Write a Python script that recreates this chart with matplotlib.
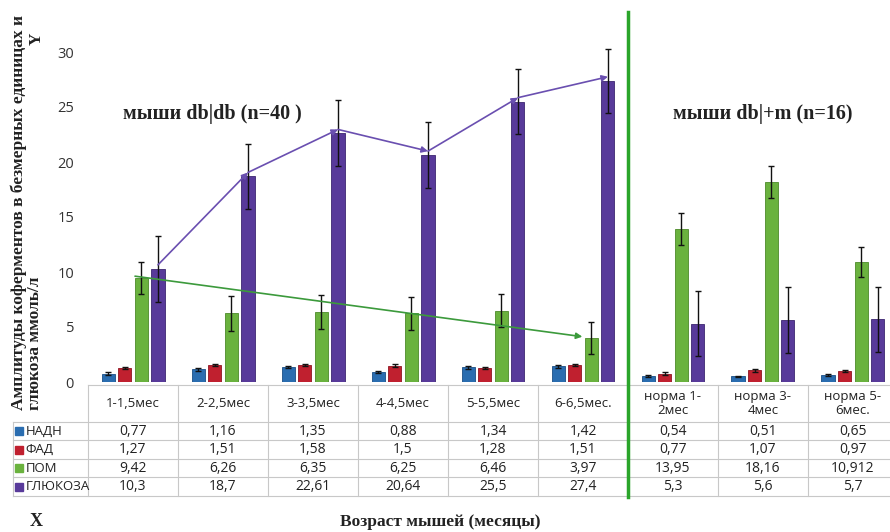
import numpy as np
import matplotlib
matplotlib.use("Agg")
import matplotlib.pyplot as plt

plt.rcParams['font.family'] = ['Open Sans', 'DejaVu Sans']
serif = ['Liberation Serif', 'DejaVu Serif']

groups = ['1-1,5мес', '2-2,5мес', '3-3,5мес', '4-4,5мес', '5-5,5мес', '6-6,5мес.',
          'норма 1-\n2мес', 'норма 3-\n4мес', 'норма 5-\n6мес.']
series = ['НАДН', 'ФАД', 'ПОМ', 'ГЛЮКОЗА']
nadh = [0.77, 1.16, 1.35, 0.88, 1.34, 1.42, 0.54, 0.51, 0.65]
fad = [1.27, 1.51, 1.58, 1.5, 1.28, 1.51, 0.77, 1.07, 0.97]
pom = [9.42, 6.26, 6.35, 6.25, 6.46, 3.97, 13.95, 18.16, 10.912]
gluc = [10.3, 18.7, 22.61, 20.64, 25.5, 27.4, 5.3, 5.6, 5.7]

nadh_err = [0.1, 0.12, 0.12, 0.1, 0.12, 0.12, 0.08, 0.08, 0.08]
fad_err = [0.12, 0.1, 0.1, 0.1, 0.12, 0.1, 0.1, 0.12, 0.1]
pom_err = [1.45, 1.6, 1.55, 1.5, 1.5, 1.45, 1.45, 1.45, 1.4]
gluc_err = [3.0, 2.95, 3.0, 3.0, 2.95, 2.9, 2.95, 3.0, 2.95]

colors = ['#2a6db0', '#c0202f', '#6ab23e', '#583a9a']
edges = ['#1b4f85', '#8e1420', '#4d8a2a', '#3d2670']

values = [nadh, fad, pom, gluc]
errors = [nadh_err, fad_err, pom_err, gluc_err]

fig = plt.figure(figsize=(8.9, 5.32), dpi=100)
ax = fig.add_axes([88/890, 150/532, 800/890, 363/532])

x = np.arange(len(groups))
step = 0.185
w = 0.145
offs = [-1.5*step, -0.5*step, 0.5*step, 1.5*step]
for k in range(4):
    ax.bar(x + offs[k], values[k], w, color=colors[k], edgecolor=edges[k], linewidth=0.6,
           yerr=errors[k], error_kw=dict(ecolor='#111111', elinewidth=1, capsize=2.5, capthick=1))

ax.set_xlim(-0.5, 8.5 - 10/90)
ax.set_ylim(0, 33)
ax.set_yticks(range(0, 31, 5))
ax.set_xticks([])
ax.tick_params(axis='y', length=0, labelsize=10.5, pad=10, labelcolor='#333333')
for s in ax.spines.values():
    s.set_visible(False)

# trend arrows
for i in range(5):
    ax.annotate('', xy=(x[i+1] + offs[3], gluc[i+1] + 0.35), xytext=(x[i] + offs[3], gluc[i] + 0.35),
                arrowprops=dict(arrowstyle='-|>', color='#6a4fb0', lw=1.2, mutation_scale=9,
                                shrinkA=0, shrinkB=0))
ax.annotate('', xy=(x[5] + offs[2] - 0.1, pom[5] + 0.15), xytext=(x[0] + offs[2] - 0.07, pom[0] + 0.2),
            arrowprops=dict(arrowstyle='-|>', color='#3c9a3c', lw=1.2, mutation_scale=9,
                            shrinkA=0, shrinkB=0))

ax.text(0.88, 24.4, 'мыши db|db (n=40 )', family=serif, weight='bold', fontsize=14.5,
        ha='center', va='center', color='#222222')
ax.text(7.0, 24.4, 'мыши db|+m (n=16)', family=serif, weight='bold', fontsize=14.5,
        ha='center', va='center', color='#222222')

# table under the chart
tr = ax.get_xaxis_transform()
grid = '#c8c8c8'
head_top, head_bot, row_h = -0.008, -0.110, 0.051
lab_left = -1.333
right = 8.5
ax.plot([-0.5, right], [head_top, head_top], color=grid, lw=0.8, transform=tr, clip_on=False)
for r in range(5):
    yy = head_bot - r * row_h
    ax.plot([lab_left, right], [yy, yy], color=grid, lw=0.8, transform=tr, clip_on=False)
ybottom = head_bot - 4 * row_h
for c in range(len(groups) + 1):
    ax.plot([c - 0.5, c - 0.5], [head_top, ybottom], color=grid, lw=0.8, transform=tr, clip_on=False)
ax.plot([lab_left, lab_left], [head_bot, ybottom], color=grid, lw=0.8, transform=tr, clip_on=False)

for c, g in enumerate(groups):
    ax.text(c, (head_top + head_bot) / 2, g, transform=tr, ha='center', va='center',
            fontsize=9.5, color='#222222', linespacing=1.1)
for r in range(4):
    yc = head_bot - (r + 0.5) * row_h
    ax.plot([lab_left + 0.07], [yc], marker='s', markersize=6, color=colors[r],
            transform=tr, clip_on=False)
    ax.text(lab_left + 0.14, yc, series[r], transform=tr, ha='left', va='center',
            fontsize=9.5, color='#222222')
    for c in range(len(groups)):
        ax.text(c, yc, str(values[r][c]).replace('.', ','), transform=tr, ha='center', va='center',
                fontsize=10, color='#222222')

# divider between groups of mice
ax.plot([5.5, 5.5], [-0.317, 1.019], color='#2aa52a', lw=2.5, transform=tr, clip_on=False)

fig.text(19/890, (532 - 410)/532, 'Амплитуды коферментов в безмерных единицах и',
         rotation=90, ha='center', va='bottom',
         family=serif, weight='bold', fontsize=12.5, color='#222222')
fig.text(35/890, (532 - 410)/532, 'глюкоза ммоль/л',
         rotation=90, ha='center', va='bottom',
         family=serif, weight='bold', fontsize=12.5, color='#222222')
fig.text(37/890, (532 - 39)/532, 'Y', rotation=90, ha='center', va='center',
         family=serif, weight='bold', fontsize=12.5, color='#222222')
fig.text(36/890, (532 - 522)/532, 'X', ha='center', va='center',
         family=serif, weight='bold', fontsize=13, color='#222222')
fig.text(440/890, (532 - 522)/532, 'Возраст мышей (месяцы)', ha='center', va='center',
         family=serif, weight='bold', fontsize=12.5, color='#222222')

fig.savefig('out.png', dpi=100)
